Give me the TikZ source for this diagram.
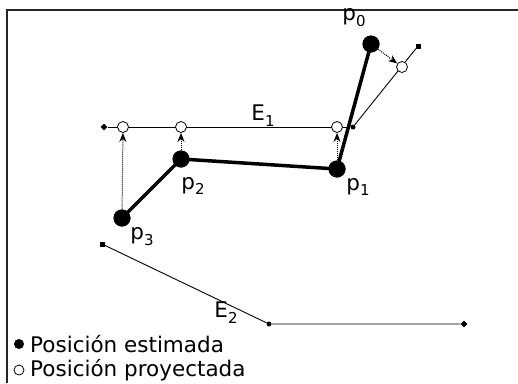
\documentclass[tikz,border=0pt]{standalone}
\usepackage{fontspec}
\setmainfont{DejaVu Sans}
\usetikzlibrary{arrows.meta,shapes.geometric}
\newcommand\lowsub[1]{\raisebox{-0.5ex}{\fontsize{15}{15}\selectfont #1}}
\tikzset{
  est/.style={circle,fill=black,inner sep=0pt,minimum size=17pt},
  proj/.style={circle,draw=black,fill=white,line width=0.8pt,inner sep=0pt,minimum size=11pt},
  sqm/.style={rectangle,fill=black,inner sep=0pt,minimum size=5pt},
  dmd/.style={diamond,fill=black,inner sep=0pt,minimum size=7pt},
  dotm/.style={circle,fill=black,inner sep=0pt,minimum size=5pt},
  thin line/.style={line width=0.9pt},
  thick line/.style={line width=3.5pt},
  projarrow/.style={densely dotted,line width=1pt,-{Stealth[length=9pt,width=7pt]}},
  lbl/.style={font=\fontsize{21.5}{26}\selectfont,inner sep=0pt},
}
\begin{document}
\begin{tikzpicture}[x=1pt,y=-1pt]
\useasboundingbox (0,0) rectangle (518,383);
\draw[line width=1.6pt,black!85] (7,383) -- (7,10) -- (518,10);
% markers
\node[sqm] (s0) at (418,46) {};
\node[dotm] (d0) at (353,127) {};
\node[dmd] (dl) at (104,127) {};
\node[sqm] (s2) at (102,244) {};
\node[dotm] (d2) at (269,324) {};
\node[dmd] (dr) at (464,324) {};
% segment lines
\draw[thin line] (s0) -- (d0);
\draw[thin line] (dl) -- (d0);
\draw[thin line] (s2) -- (d2) -- (dr);
% projected points
\node[proj] (q0) at (402,67) {};
\node[proj] (q1) at (337,127) {};
\node[proj] (q2) at (181,127) {};
\node[proj] (q3) at (123,127) {};
% estimated points
\node[est] (p0) at (371,44) {};
\node[est] (p1) at (337,169) {};
\node[est] (p2) at (181,159) {};
\node[est] (p3) at (122,218) {};
\draw[thick line] (p3.center) -- (p2.center) -- (p1.center) -- (p0.center);
\node[est] at (p0) {};
\node[est] at (p1) {};
\node[est] at (p2) {};
\node[est] at (p3) {};
% projection arrows
\draw[projarrow] (p0) -- (q0);
\draw[projarrow] (p1) -- (q1);
\draw[projarrow] (p2) -- (q2);
\draw[projarrow] (p3) -- (q3);
% labels
\node[lbl] (l0) at (354,18) {p\lowsub{0}};
\node[lbl] (l1) at (358,187) {p\lowsub{1}};
\node[lbl] (l2) at (193,186) {p\lowsub{2}};
\node[lbl] (l3) at (142,237) {p\lowsub{3}};
\node[lbl] (e1) at (263,116) {E\lowsub{1}};
\node[lbl] (e2) at (226,313) {E\lowsub{2}};
% legend
\node[circle,fill=black,inner sep=0pt,minimum size=10pt] (k1) at (19,344) {};
\node[circle,draw=black,line width=0.8pt,inner sep=0pt,minimum size=10pt] (k2) at (19,370) {};
\node[lbl,anchor=west] (t1) at (30,344) {Posición estimada};
\node[lbl,anchor=west] (t2) at (30,370) {Posición proyectada};
\end{tikzpicture}
\end{document}
